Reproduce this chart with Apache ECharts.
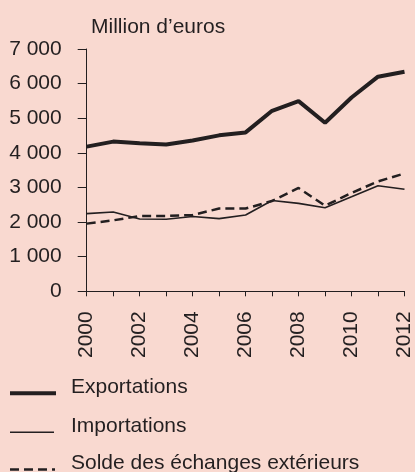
<!DOCTYPE html>
<html><head><meta charset="utf-8">
<script src="https://cdn.jsdelivr.net/npm/echarts@6/dist/echarts.min.js"></script>
<style>html,body{margin:0;padding:0;background:#f9d9d0;}#c{width:415px;height:472px;}</style>
</head><body><div id="c"></div>
<script>
const years = ['2000','2001','2002','2003','2004','2005','2006','2007','2008','2009','2010','2011','2012'];
const exportations = [4180,4325,4275,4240,4355,4505,4590,5215,5495,4870,5600,6200,6345];
const importations = [2245,2290,2090,2080,2160,2100,2205,2625,2540,2415,2730,3050,2950];
const solde = [1955,2050,2175,2175,2205,2390,2390,2610,2985,2475,2840,3175,3405];
const seriesNames = ['Exportations','Importations','Solde des \u00e9changes ext\u00e9rieurs'];
const yTicks = {min:0, max:7000, interval:1000};
const ink = '#231f20';
const font = 'Liberation Sans, Arial, sans-serif';
const fs = 21;
const styles = [
  {width:4, type:'solid'},
  {width:1.6, type:'solid'},
  {width:2.5, type:[9,5]}
];
const legendRows = [
  {textY:387, lineY:393.3, x2:56},
  {textY:426, lineY:432.3, x2:54},
  {textY:463, lineY:469.5, x2:55}
];
const graphic = [];
seriesNames.forEach((n,i)=>{
  graphic.push({type:'line', shape:{x1:10, y1:legendRows[i].lineY, x2:legendRows[i].x2, y2:legendRows[i].lineY},
    style:{stroke:ink, lineWidth:styles[i].width, lineDash: styles[i].type==='solid'?null:styles[i].type}});
  graphic.push({type:'text', x:71, y:legendRows[i].textY,
    style:{text:n, fill:ink, font:fs+'px '+font, textVerticalAlign:'middle', verticalAlign:'middle'}});
});
const chart = echarts.init(document.getElementById('c'), null, {renderer:'canvas'});
chart.setOption({
  backgroundColor:'#f9d9d0',
  animation:false,
  title:{text:'Million d\u2019euros', left:86, top:12, textStyle:{fontFamily:font, fontSize:fs, fontWeight:'normal', color:ink}},
  grid:{left:86.7, right:6.7, top:49, bottom:180.7, containLabel:false},
  graphic: graphic,
  xAxis:{
    type:'category', data:years, boundaryGap:false,
    axisLine:{lineStyle:{color:ink, width:1}},
    axisTick:{show:true, interval:0, length:5, lineStyle:{color:ink}},
    axisLabel:{interval:1, rotate:90, margin:20, fontFamily:font, fontSize:fs, color:ink}
  },
  yAxis:{
    type:'value', min:yTicks.min, max:yTicks.max, interval:yTicks.interval,
    splitLine:{show:false},
    axisLine:{show:true, lineStyle:{color:ink, width:1}},
    axisTick:{show:true, length:9, lineStyle:{color:ink}},
    axisLabel:{margin:25, fontFamily:font, fontSize:fs, color:ink,
      formatter:v=>{const s=String(v);return s.length>3?s.slice(0,s.length-3)+' '+s.slice(-3):s;}}
  },
  series:[
    {name:seriesNames[0], type:'line', data:exportations, symbol:'none', lineStyle:{color:ink, width:styles[0].width}},
    {name:seriesNames[1], type:'line', data:importations, symbol:'none', lineStyle:{color:ink, width:styles[1].width}},
    {name:seriesNames[2], type:'line', data:solde, symbol:'none', lineStyle:{color:ink, width:styles[2].width, type:styles[2].type}}
  ]
});
</script></body></html>
